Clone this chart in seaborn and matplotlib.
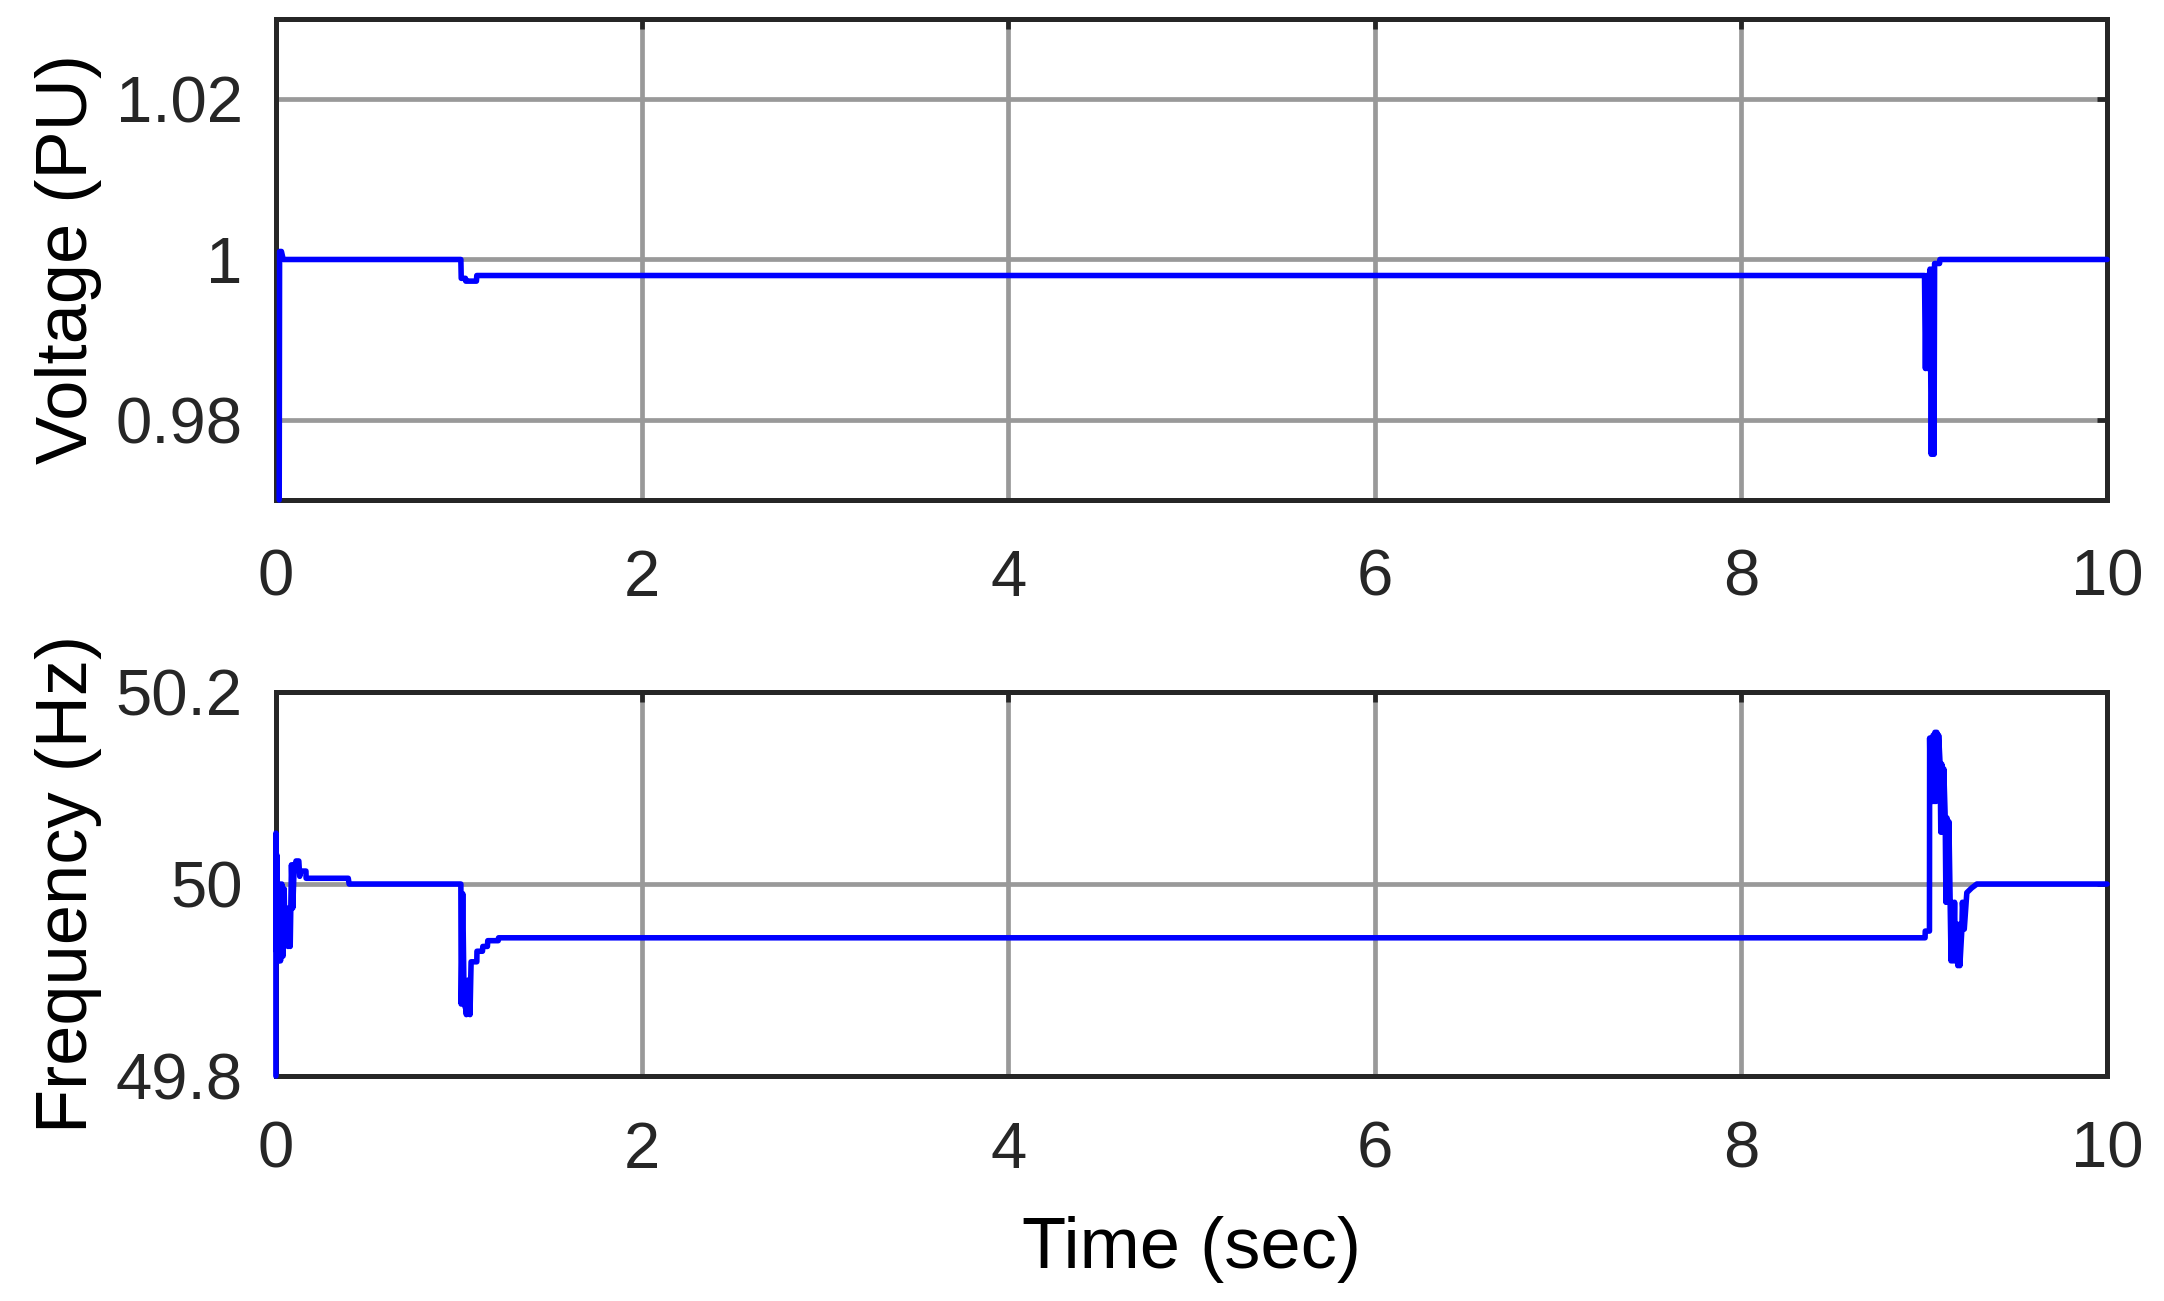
import matplotlib
matplotlib.use("Agg")
import matplotlib.pyplot as plt
import seaborn as sns
import pandas as pd

# ---------------- data ----------------
v_time = [0.018, 0.020, 0.030, 0.040, 1.010, 1.012, 1.035, 1.037, 1.095, 1.097,
          9.003, 9.008, 9.013, 9.018, 9.023, 9.028, 9.033, 9.040, 9.048, 9.055,
          9.058, 9.085, 9.087, 10.0]
v_value = [0.970, 1.001, 1.001, 1.000, 1.000, 0.99765, 0.99765, 0.9973, 0.9973, 0.998,
           0.998, 0.9864, 0.998, 0.9864, 0.998, 0.9864, 0.9988, 0.9757, 0.9988, 0.9757,
           0.9995, 0.9995, 1.000, 1.000]

f_time = [0.000, 0.000, 0.003, 0.006, 0.009, 0.012, 0.015, 0.018, 0.025, 0.032,
          0.039, 0.045, 0.050, 0.058, 0.066, 0.074, 0.078, 0.085, 0.092, 0.100,
          0.105, 0.110, 0.125, 0.130, 0.135, 0.164, 0.165, 0.395, 0.400,
          1.010, 1.012, 1.020, 1.028, 1.037, 1.040, 1.050, 1.060, 1.064, 1.066,
          1.097, 1.098, 1.128, 1.130, 1.155, 1.157, 1.214, 1.216,
          9.006, 9.007, 9.030, 9.031, 9.035, 9.040, 9.045, 9.050, 9.055, 9.060,
          9.065, 9.070, 9.075, 9.080, 9.088, 9.092, 9.097, 9.102, 9.108, 9.116,
          9.120, 9.125, 9.130, 9.136, 9.143, 9.148, 9.153, 9.160, 9.167, 9.172,
          9.179, 9.185, 9.190, 9.196, 9.207, 9.210, 9.220, 9.234, 9.261, 9.289, 10.0]
f_value = [49.80, 50.053, 49.93, 50.03, 49.92, 50.00, 49.92, 50.00, 49.92, 50.00,
           49.925, 49.995, 49.94, 49.975, 49.935, 49.975, 49.935, 50.02, 49.975, 50.02,
           50.02, 50.024, 50.024, 50.008, 50.0135, 50.0135, 50.006, 50.006, 50.00,
           50.00, 49.875, 49.99, 49.875, 49.87, 49.864, 49.90, 49.864, 49.902, 49.919,
           49.919, 49.93, 49.93, 49.935, 49.935, 49.941, 49.941, 49.944,
           49.944, 49.951, 49.951, 50.152, 50.09, 50.152, 50.086, 50.155, 50.086, 50.158,
           50.086, 50.158, 50.09, 50.155, 50.125, 50.054, 50.125, 50.054, 50.12, 50.069,
           49.981, 50.069, 49.981, 50.065, 49.981, 49.92, 49.981, 49.92, 49.981, 49.92,
           49.958, 49.915, 49.958, 49.915, 49.953, 49.981, 49.953, 49.991, 49.996, 50.00, 50.00]

x_ticks = [0, 2, 4, 6, 8, 10]
v_ticks = [0.98, 1.00, 1.02]
v_ticklabels = ["0.98", "1", "1.02"]
f_ticks = [49.8, 50.0, 50.2]
f_ticklabels = ["49.8", "50", "50.2"]

# ---------------- style ----------------
sns.set_style("white")
plt.rcParams["font.family"] = ["Liberation Sans", "DejaVu Sans"]

TXT = "#262626"
fig = plt.figure(figsize=(21.64, 13.01), dpi=100)
ax1 = fig.add_axes([0.1275, 0.6157, 0.8462, 0.3697])
ax2 = fig.add_axes([0.1275, 0.1729, 0.8462, 0.2952])

dv = pd.DataFrame({"t": v_time, "v": v_value})
df = pd.DataFrame({"t": f_time, "f": f_value})
sns.lineplot(data=dv, x="t", y="v", sort=False, estimator=None, color="#0000ff",
             lw=4.0, ax=ax1, zorder=3, clip_on=False)
sns.lineplot(data=df, x="t", y="f", sort=False, estimator=None, color="#0000ff",
             lw=4.0, ax=ax2, zorder=3, clip_on=False)

ax1.set_ylim(0.97, 1.03)
ax2.set_ylim(49.8, 50.2)
ax1.set_yticks(v_ticks)
ax1.set_yticklabels(v_ticklabels)
ax2.set_yticks(f_ticks)
ax2.set_yticklabels(f_ticklabels)

for ax in (ax1, ax2):
    ax.set_xlim(0, 10)
    ax.set_xticks(x_ticks)
    ax.set_xticklabels([str(t) for t in x_ticks])
    ax.grid(True, color="#999999", lw=3.4)
    ax.set_axisbelow(True)
    for s in ax.spines.values():
        s.set_color(TXT)
        s.set_linewidth(3.6)
        s.set_visible(True)
    ax.tick_params(axis="both", direction="in", length=7, width=3.4, color=TXT,
                   labelsize=47, labelcolor=TXT, top=True, right=True)
    ax.tick_params(axis="y", pad=24)
ax1.tick_params(axis="x", pad=35)
ax2.tick_params(axis="x", pad=32)

ax1.set_xlabel("")
ax1.set_ylabel("Voltage (PU)", fontsize=52, color="black")
ax2.set_ylabel("Frequency (Hz)", fontsize=52, color="black")
ax2.set_xlabel("Time (sec)", fontsize=52, color="black")
ax1.yaxis.set_label_coords(-0.095, 0.5)
ax2.yaxis.set_label_coords(-0.095, 0.5)
ax2.xaxis.set_label_coords(0.5, -0.365)

fig.savefig("out.png", dpi=100, facecolor="white")
